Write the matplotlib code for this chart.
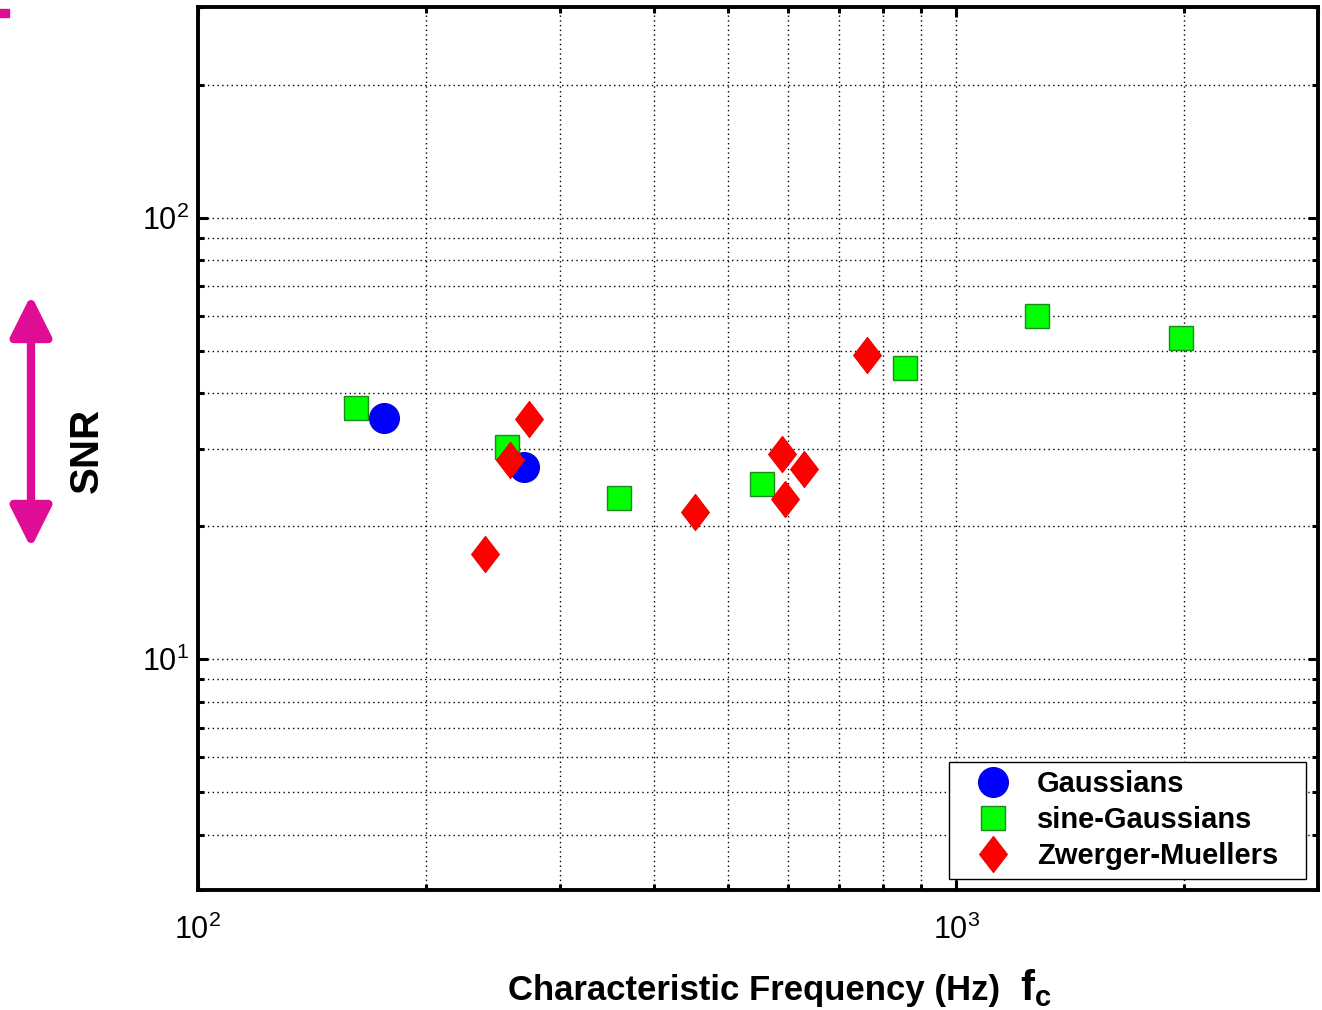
import numpy as np
import matplotlib.pyplot as plt
from matplotlib.path import Path
from matplotlib.patches import Rectangle

plt.rcParams['font.family'] = ['Liberation Sans', 'DejaVu Sans']
plt.rcParams['mathtext.fontset'] = 'custom'
plt.rcParams['mathtext.rm'] = 'Liberation Sans'
plt.rcParams['mathtext.it'] = 'Liberation Sans:italic'
plt.rcParams['mathtext.bf'] = 'Liberation Sans:bold'

# data (Hz, SNR)
gauss_f = [176, 269]
gauss_snr = [35.1, 27.3]
sg_f = [161.5, 256, 359, 555, 856, 1279, 1978]
sg_snr = [37.1, 30.2, 23.2, 24.9, 45.6, 59.8, 53.5]
zm_f = [239, 258, 273, 452, 589, 595, 631, 764]
zm_snr = [17.3, 28.2, 34.9, 21.5, 29.1, 23.1, 27.0, 48.9]

W, H = 1322, 1010
magenta = '#DF0C96'

# tall diamond like the matlab one
diamond = Path([(0, 1), (0.77, 0), (0, -1), (-0.77, 0), (0, 1)],
               [Path.MOVETO, Path.LINETO, Path.LINETO, Path.LINETO, Path.CLOSEPOLY])

fig = plt.figure(figsize=(W / 100, H / 100), dpi=100)
ax = fig.add_axes([197.7 / W, 120 / H, (1318 - 197.7) / W, (890 - 7) / H])

ax.plot(gauss_f, gauss_snr, 'o', ms=21.5, mfc='#0000ff', mec='#0000d0', mew=0.8,
        ls='none', label='Gaussians', zorder=3)
ax.plot(sg_f, sg_snr, 's', ms=17.5, mfc='#00ff00', mec='#1a8c1a', mew=1.0,
        ls='none', label='sine-Gaussians', zorder=3)
ax.plot(zm_f, zm_snr, marker=diamond, ms=26, mfc='#ff0000', mec='#f00000', mew=0.8,
        ls='none', label='Zwerger-Muellers', zorder=3)

ax.set_xscale('log')
ax.set_yscale('log')
ax.set_xlim(100, 3000)
ax.set_ylim(3, 300)

ax.grid(True, which='both', color='k', ls=(0, (1, 2.4)), lw=1.0)
ax.set_axisbelow(True)
ax.tick_params(which='both', direction='in', top=True, right=True, width=2.2, colors='k')
ax.tick_params(which='major', length=7.5, labelsize=22)
ax.tick_params(which='minor', length=4)
ax.tick_params(axis='x', which='major', pad=18)
ax.tick_params(axis='y', which='major', pad=6)

for s in ax.spines.values():
    s.set_linewidth(2.8)

# legend box drawn by hand so it can be as wide as the matlab one
ax.add_patch(Rectangle((949 / W, 1 - 879 / H), (1306 - 949) / W, (879 - 762) / H,
                       transform=fig.transFigure, facecolor='white', edgecolor='k',
                       lw=1.0, zorder=4, clip_on=False))
leg = ax.legend(loc='lower left', bbox_to_anchor=(949 / W, (H - 879) / H),
                bbox_transform=fig.transFigure, borderaxespad=0, frameon=False,
                prop={'weight': 'bold', 'size': 21}, handlelength=2.4,
                handletextpad=0.32, labelspacing=0.27, borderpad=0.3)
leg.set_zorder(5)

fig.text(87 / W, 1 - 450 / H, 'SNR', rotation=90, ha='center', va='center',
         fontsize=29, fontweight='bold')
fig.text(508 / W, 1 - 1000 / H, 'Characteristic Frequency (Hz)', ha='left',
         va='baseline', fontsize=25, fontweight='bold')
fig.text(1020 / W, 1 - 1000 / H, r'$\mathbf{f_c}$', ha='left', va='baseline', fontsize=30)

# magenta double arrow on the left
ax.annotate('', xy=(31, H - 548), xytext=(31, H - 295), xycoords='figure pixels',
            textcoords='figure pixels',
            arrowprops=dict(arrowstyle='<|-|>,head_length=1.0,head_width=0.5',
                            mutation_scale=25, lw=6, color=magenta,
                            shrinkA=0, shrinkB=0))
fig.patches.append(Rectangle((0, 1 - 17 / H), 9 / W, 8 / H, transform=fig.transFigure,
                             color=magenta, figure=fig))

fig.savefig('out.png', dpi=100)
